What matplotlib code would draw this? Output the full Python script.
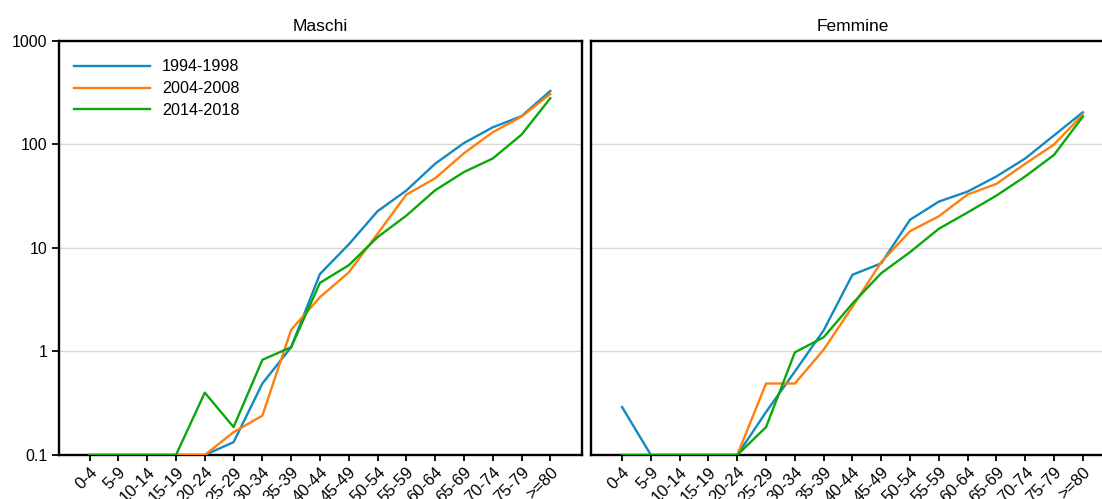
import matplotlib
matplotlib.use("Agg")
import matplotlib.pyplot as plt
import numpy as np
from matplotlib.ticker import NullLocator

plt.rcParams['font.family'] = ['Liberation Sans', 'DejaVu Sans']

age_groups = ['0-4', '5-9', '10-14', '15-19', '20-24', '25-29', '30-34', '35-39',
              '40-44', '45-49', '50-54', '55-59', '60-64', '65-69', '70-74', '75-79', '>=80']
periods = ['1994-1998', '2004-2008', '2014-2018']
colors = ['#138abf', '#ff7f0e', '#0aa80a']

# tassi per 100.000 (valori nulli mostrati sul fondo della scala log, 0.1)
maschi_9498 = [0.1, 0.1, 0.1, 0.1, 0.1, 0.133, 0.49, 1.1, 5.6, 10.8, 22.6, 35.8, 65, 103, 146, 187, 328]
maschi_0408 = [0.1, 0.1, 0.1, 0.1, 0.1, 0.166, 0.24, 1.62, 3.34, 5.8, 13.7, 32.7, 47, 82, 131, 185, 307]
maschi_1418 = [0.1, 0.1, 0.1, 0.1, 0.40, 0.186, 0.83, 1.1, 4.6, 6.8, 12.7, 20.5, 36, 54, 73, 124, 279]

femmine_9498 = [0.29, 0.1, 0.1, 0.1, 0.1, 0.26, 0.64, 1.6, 5.5, 7.1, 18.7, 28, 35, 49, 73, 122, 204]
femmine_0408 = [0.1, 0.1, 0.1, 0.1, 0.1, 0.49, 0.49, 1.04, 2.7, 7.3, 14.5, 20.2, 32.8, 41.5, 65, 99.6, 194]
femmine_1418 = [0.1, 0.1, 0.1, 0.1, 0.1, 0.186, 0.98, 1.37, 2.9, 5.7, 9.1, 15.3, 22, 32, 49, 79, 185]

panels = [('Maschi', [maschi_9498, maschi_0408, maschi_1418]),
          ('Femmine', [femmine_9498, femmine_0408, femmine_1418])]

fig = plt.figure(figsize=(11.02, 4.99), dpi=100)
ax_l = fig.add_axes([0.0531, 0.0882, 0.475, 0.830])
ax_r = fig.add_axes([0.5363, 0.0882, 0.475, 0.830])

x = np.arange(len(age_groups))
for ax, (title, series) in zip([ax_l, ax_r], panels):
    for vals, lab, col in zip(series, periods, colors):
        ax.plot(x, vals, color=col, lw=1.7, label=lab, zorder=3)
    ax.set_yscale('log')
    ax.set_ylim(0.1, 1000)
    ax.set_xlim(-1.08, 17.1)
    ax.yaxis.set_minor_locator(NullLocator())
    ax.set_xticks(x)
    ax.set_xticklabels(age_groups, rotation=45, ha='right', rotation_mode='anchor', fontsize=12)
    ax.tick_params(axis='x', length=4, width=1.3, pad=3)
    ax.set_title(title, fontsize=12.5, pad=7)
    for s in ax.spines.values():
        s.set_linewidth(1.7)
    ax.grid(axis='y', which='major', color='#d9d9d9', lw=1.0, zorder=0)
    ax.set_axisbelow(True)

ax_l.set_yticks([0.1, 1, 10, 100, 1000])
ax_l.set_yticklabels(['0.1', '1', '10', '100', '1000'], fontsize=11.5)
ax_l.tick_params(axis='y', length=5, width=1.3, pad=3)
ax_r.tick_params(axis='y', left=False, labelleft=False)

ax_l.legend(loc='upper left', bbox_to_anchor=(0.03, 0.955), frameon=False, fontsize=11.6,
            handlelength=4.7, handletextpad=0.75, labelspacing=0.42, borderpad=0, borderaxespad=0)

fig.savefig('out.png', dpi=100)
